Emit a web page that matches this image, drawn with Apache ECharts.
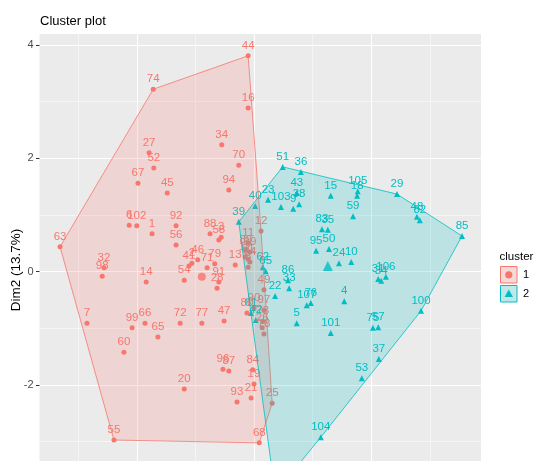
<!DOCTYPE html>
<html lang="en">
<head>
    <meta charset="utf-8">
    <title>Cluster plot</title>
    <script src="https://cdn.jsdelivr.net/npm/echarts@6/dist/echarts.min.js"></script>
    <style type="text/css">
        html, body {
            margin: 0px;
            padding: 0px;
            background: #ffffff;
        }

        #main {
            width: 534px;
            height: 461px;
        }
    </style>
</head>
<body>
<div id="main"></div>
<script>
    // cluster 1 (red circles)
    var c1Names = ['44', '74', '16', '34', '27', '52', '70', '67', '45', '94', '6', '102', '1', '92', '88', '3', '58', '56',
        '63', '32', '98', '14', '46', '2', '41', '79', '71', '54', '91', '28', '13', '12', '11', '89', '69', '17', '81',
        '64', '8', '49', '80', '90', '97', '73', '26', '78', '7', '99', '66', '65', '72', '77', '47', '60', '96', '87',
        '84', '19', '20', '93', '21', '25', '55', '68'];
    var c1X = [-0.10, -1.72, -0.10, -0.55, -1.79, -1.71, -0.26, -1.98, -1.48, -0.43, -2.13, -2.00, -1.74, -1.33, -0.75, -0.56, -0.60, -1.33,
        -3.31, -2.56, -2.59, -1.84, -0.96, -1.06, -1.11, -0.67, -0.80, -1.19, -0.60, -0.63, -0.32, 0.12, -0.10, -0.14, -0.07, -0.15, -0.10,
        -0.07, -0.10, 0.17, -0.12, 0.00, 0.17, 0.15, 0.14, 0.17, -2.85, -2.08, -1.86, -1.64, -1.26, -0.89, -0.51, -2.22, -0.53, -0.43,
        -0.02, 0.00, -1.19, -0.29, -0.05, 0.31, -2.39, 0.09];
    var c1Y = [3.81, 3.22, 2.89, 2.24, 2.10, 1.83, 1.88, 1.56, 1.39, 1.44, 0.82, 0.81, 0.67, 0.81, 0.67, 0.61, 0.56, 0.47,
        0.44, 0.07, -0.08, -0.18, 0.21, 0.15, 0.10, 0.14, 0.07, -0.15, -0.18, -0.29, 0.12, 0.72, 0.51, 0.38, 0.35, 0.26, 0.22,
        0.17, 0.08, -0.32, -0.73, -0.64, -0.68, -0.88, -0.99, -1.10, -0.91, -0.99, -0.91, -1.15, -0.91, -0.91, -0.87, -1.42, -1.72, -1.75,
        -1.73, -1.98, -2.07, -2.30, -2.23, -2.32, -2.97, -3.02];

    // cluster 2 (cyan triangles)
    var c2Names = ['51', '36', '43', '38', '9', '103', '23', '15', '105', '18', '29', '59', '48', '82', '85', '40', '39', '83',
        '35', '95', '50', '24', '10', '31', '34', '106', '62', '65', '86', '33', '22', '107', '76', '4', '5', '101', '75', '57',
        '100', '37', '53', '104', '61', '42', '30'];
    var c2X = [0.49, 0.80, 0.73, 0.77, 0.67, 0.46, 0.24, 1.31, 1.77, 1.76, 2.44, 1.69, 2.78, 2.83, 3.55, 0.02, -0.26, 1.16,
        1.26, 1.06, 1.28, 1.45, 1.66, 2.12, 2.17, 2.25, 0.15, 0.20, 0.58, 0.60, 0.36, 0.90, 0.97, 1.54, 0.73, 1.31, 2.03, 2.12,
        2.85, 2.13, 1.84, 1.14, -0.05, 0.03, 0.36];
    var c2Y = [1.85, 1.76, 1.39, 1.19, 1.11, 1.14, 1.27, 1.34, 1.42, 1.34, 1.37, 0.98, 0.97, 0.91, 0.63, 1.16, 0.88, 0.75,
        0.74, 0.37, 0.40, 0.15, 0.17, -0.13, -0.16, -0.09, 0.08, 0.01, -0.15, -0.29, -0.43, -0.59, -0.55, -0.52, -0.91, -1.08, -0.99, -0.98,
        -0.69, -1.54, -1.88, -2.92, -0.73, -0.85, -3.91];

    // cluster centres
    var centerX = [-0.89, 1.26];
    var centerY = [-0.09, 0.10];

    var clusterNames = ['1', '2'];
    var colors = ['#F8766D', '#00BFC4'];
    var fills = ['rgba(248,118,109,0.2)', 'rgba(0,191,196,0.2)'];

    var myChart = echarts.init(document.getElementById('main'), null, {renderer: 'canvas'});

    function toPoints(names, xs, ys) {
        return xs.map(function (x, i) {
            return {name: names[i], value: [x, ys[i]]};
        });
    }

    // convex hull (monotone chain)
    function hull(xs, ys) {
        var pts = xs.map(function (x, i) { return [x, ys[i]]; });
        pts.sort(function (a, b) { return a[0] - b[0] || a[1] - b[1]; });
        function cross(o, a, b) {
            return (a[0] - o[0]) * (b[1] - o[1]) - (a[1] - o[1]) * (b[0] - o[0]);
        }
        var lower = [], upper = [];
        for (var i = 0; i < pts.length; i++) {
            while (lower.length >= 2 && cross(lower[lower.length - 2], lower[lower.length - 1], pts[i]) <= 0) lower.pop();
            lower.push(pts[i]);
        }
        for (var j = pts.length - 1; j >= 0; j--) {
            while (upper.length >= 2 && cross(upper[upper.length - 2], upper[upper.length - 1], pts[j]) <= 0) upper.pop();
            upper.push(pts[j]);
        }
        upper.pop();
        lower.pop();
        return lower.concat(upper);
    }

    function hullSeries(xs, ys, k) {
        var h = hull(xs, ys);
        return {
            type: 'custom',
            z: 3,
            silent: true,
            clip: false,
            data: h,
            encode: {x: 0, y: 1},
            renderItem: function (params, api) {
                if (params.dataIndex !== 0) return;
                var pts = h.map(function (p) { return api.coord(p); });
                return {
                    type: 'polygon',
                    shape: {points: pts},
                    style: {fill: fills[k], stroke: colors[k], lineWidth: 0.8}
                };
            }
        };
    }

    var labelStyle = function (k, d) {
        return {
            show: true,
            position: 'top',
            distance: d,
            formatter: '{b}',
            color: colors[k],
            fontSize: 11.5,
            fontFamily: 'Liberation Sans, Arial, sans-serif'
        };
    };

    var option = {
        animation: false,
        backgroundColor: '#ffffff',
        title: {
            text: 'Cluster plot',
            left: 40,
            top: 15,
            padding: 0,
            textStyle: {
                fontSize: 13,
                fontWeight: 'normal',
                color: '#000000',
                fontFamily: 'Liberation Sans, Arial, sans-serif'
            }
        },
        graphic: [
            // panel background
            {type: 'rect', z: -10, silent: true, shape: {x: 39.5, y: 34, width: 441.5, height: 440}, style: {fill: '#EBEBEB'}},
            // legend
            {type: 'text', x: 499.5, y: 257, style: {text: 'cluster', fill: '#000', fontSize: 11.5, fontFamily: 'Liberation Sans, Arial, sans-serif', textVerticalAlign: 'middle'}},
            {type: 'rect', shape: {x: 500.5, y: 266.5, width: 16.5, height: 16.5}, style: {fill: '#F2F2F2'}},
            {type: 'rect', shape: {x: 500.5, y: 266.5, width: 16.5, height: 16.5}, style: {fill: fills[0], stroke: colors[0], lineWidth: 1}},
            {type: 'circle', shape: {cx: 508.8, cy: 274.8, r: 3.6}, style: {fill: colors[0]}},
            {type: 'text', x: 523, y: 275, style: {text: clusterNames[0], fill: '#000', fontSize: 11, fontFamily: 'Liberation Sans, Arial, sans-serif', textVerticalAlign: 'middle'}},
            {type: 'rect', shape: {x: 500.5, y: 285.5, width: 16.5, height: 16.5}, style: {fill: '#F2F2F2'}},
            {type: 'rect', shape: {x: 500.5, y: 285.5, width: 16.5, height: 16.5}, style: {fill: fills[1], stroke: colors[1], lineWidth: 1}},
            {type: 'polygon', shape: {points: [[508.8, 289.5], [513, 297], [504.6, 297]]}, style: {fill: colors[1]}},
            {type: 'text', x: 523, y: 294, style: {text: clusterNames[1], fill: '#000', fontSize: 11, fontFamily: 'Liberation Sans, Arial, sans-serif', textVerticalAlign: 'middle'}}
        ],
        grid: {
            left: 19.6,
            top: -68.3,
            width: 468.8,
            height: 566.7,
            outerBoundsMode: 'none',
            containLabel: false
        },
        xAxis: {
            type: 'value',
            min: -4,
            max: 4,
            interval: 2,
            axisLine: {show: false, onZero: false},
            axisTick: {show: false},
            axisLabel: {show: false},
            splitLine: {show: true, lineStyle: {color: '#ffffff', width: 1}},
            minorTick: {show: false, splitNumber: 2},
            minorSplitLine: {show: true, lineStyle: {color: '#ffffff', width: 0.5}}
        },
        yAxis: {
            type: 'value',
            min: -4,
            max: 6,
            interval: 2,
            offset: -19.9,
            name: 'Dim2 (13.7%)',
            nameLocation: 'middle',
            nameGap: 16,
            nameMoveOverlap: false,
            nameTextStyle: {
                color: '#000000',
                fontSize: 13.5,
                padding: [0, 110, 0, 0],
                fontFamily: 'Liberation Sans, Arial, sans-serif'
            },
            axisLine: {show: false, onZero: false},
            axisTick: {show: true, length: 3.5, lineStyle: {color: '#333333', width: 1}},
            axisLabel: {
                margin: 6,
                color: '#4D4D4D',
                fontSize: 11,
                fontFamily: 'Liberation Sans, Arial, sans-serif'
            },
            splitLine: {show: true, lineStyle: {color: '#ffffff', width: 1}},
            minorTick: {show: false, splitNumber: 2},
            minorSplitLine: {show: true, lineStyle: {color: '#ffffff', width: 0.5}}
        },
        series: [
            {
                type: 'scatter',
                z: 2,
                symbol: 'circle',
                symbolSize: 5,
                itemStyle: {color: colors[0], opacity: 1},
                label: labelStyle(0, 1.8),
                data: toPoints(c1Names, c1X, c1Y)
            },
            {
                type: 'scatter',
                z: 2,
                symbol: 'triangle',
                symbolSize: 6,
                itemStyle: {color: colors[1], opacity: 1},
                label: labelStyle(1, 1.3),
                data: toPoints(c2Names, c2X, c2Y)
            },
            {
                type: 'scatter',
                z: 2,
                symbol: 'circle',
                symbolSize: 8,
                itemStyle: {color: colors[0]},
                data: [[centerX[0], centerY[0]]]
            },
            {
                type: 'scatter',
                z: 2,
                symbol: 'triangle',
                symbolSize: 10,
                itemStyle: {color: colors[1]},
                data: [[centerX[1], centerY[1]]]
            },
            hullSeries(c1X, c1Y, 0),
            hullSeries(c2X, c2Y, 1)
        ]
    };

    myChart.setOption(option);
</script>
</body>
</html>
